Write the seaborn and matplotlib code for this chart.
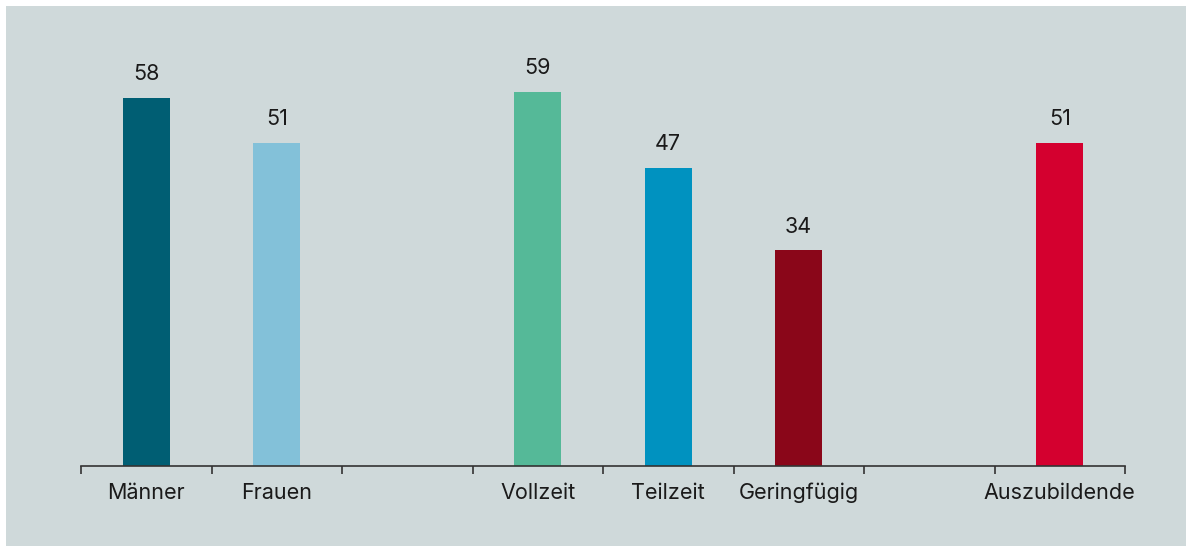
import matplotlib
matplotlib.use("Agg")
import matplotlib.pyplot as plt
import matplotlib.patches as mpatches
import pandas as pd
import seaborn as sns

# data
categories = ["Männer", "Frauen", "Vollzeit", "Teilzeit", "Geringfügig", "Auszubildende"]
values = [58, 51, 59, 47, 34, 51]
colors = ["#005e73", "#83c1d9", "#55b998", "#0092c0", "#8a0619", "#d4002f"]
# slot order incl. two empty gaps
slot_order = ["Männer", "Frauen", "_gap1", "Vollzeit", "Teilzeit", "Geringfügig", "_gap2", "Auszubildende"]

df = pd.DataFrame({"kategorie": categories, "wert": values})

sns.set_style("white")
plt.rcParams["font.family"] = ["Inter", "DejaVu Sans"]

fig = plt.figure(figsize=(11.92, 5.52), dpi=100, facecolor="white")
# grey panel with a thin white border (drawn behind the axes)
fig.patches.append(mpatches.Rectangle((6 / 1192, 6 / 552), 1180 / 1192, 540 / 552,
                                      transform=fig.transFigure, facecolor="#cfd9da",
                                      edgecolor="none", zorder=-10))

ax = fig.add_axes([81 / 1192, 1 - 466 / 552, (1125 - 81) / 1192, 412 / 552])
ax.set_facecolor("none")
ax.set_zorder(1)

sns.barplot(data=df, x="kategorie", y="wert", hue="kategorie", order=slot_order,
            palette=dict(zip(categories, colors)), width=0.36, legend=False,
            saturation=1, linewidth=0, ax=ax)

for cont in ax.containers:
    ax.bar_label(cont, fmt="%d", padding=10, fontsize=15.5, color="#1a1a1a")

ax.set_ylim(0, 65)
ax.set_xlim(-0.5, len(slot_order) - 0.5)

# boundary ticks as major, labels on minor ticks at bar centres
ax.set_xticks([i - 0.5 for i in range(len(slot_order) + 1)])
ax.set_xticklabels([])
ax.set_xticks(range(len(slot_order)), minor=True)
ax.set_xticklabels([c if not c.startswith("_") else "" for c in slot_order], minor=True,
                   fontsize=15.5, color="#1a1a1a")
ax.tick_params(axis="x", which="major", bottom=True, length=6, width=1.2,
               color="#333333", direction="out")
ax.tick_params(axis="x", which="minor", bottom=True, length=0, pad=12)

ax.set_yticks([])
ax.set_xlabel("")
ax.set_ylabel("")
for s in ["top", "right", "left"]:
    ax.spines[s].set_visible(False)
ax.spines["bottom"].set_color("#333333")
ax.spines["bottom"].set_linewidth(1.2)

fig.savefig("out.png", dpi=100, facecolor="white")
